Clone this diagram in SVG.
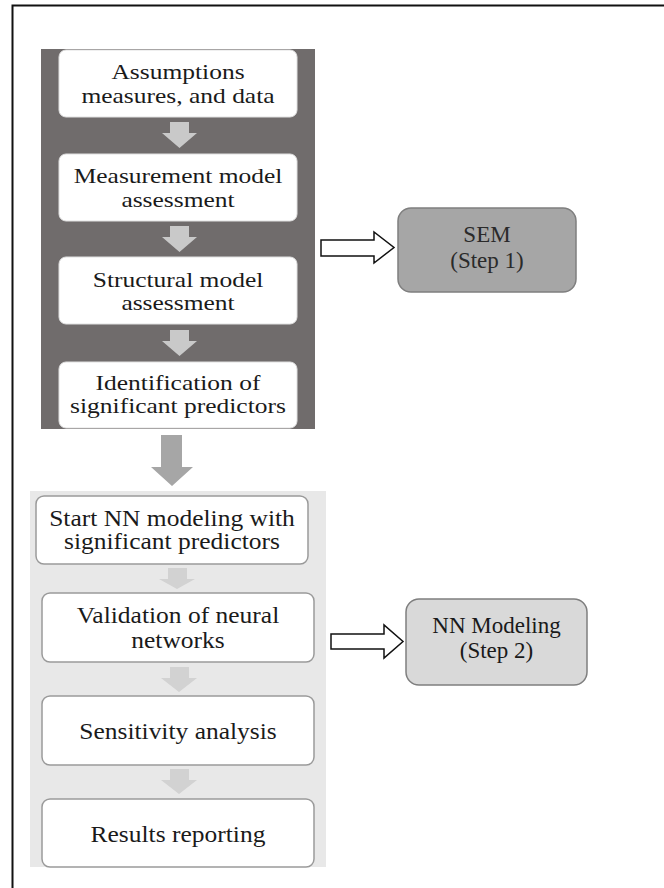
<svg xmlns="http://www.w3.org/2000/svg" width="664" height="888" viewBox="0 0 664 888">
<style>
text{font-family:'Liberation Serif','Times New Roman',Times,serif;fill:#1a1a1a;text-anchor:middle}
.t{font-size:25.5px}
.s{font-size:23px}
.wb{fill:#ffffff;stroke:#e0e0e0;stroke-width:1}
.lb{fill:#ffffff;stroke:#9a9a9a;stroke-width:1.5}
.ar1{fill:#c9c9c9}
.ar2{fill:#d2d2d2}
.hol{fill:#ffffff;stroke:#111;stroke-width:1.5}
</style>
<rect width="664" height="888" fill="#ffffff"/>
<path d="M12.5 888 V5.5 H664" fill="none" stroke="#111" stroke-width="2"/>
<rect id="panel1" x="41" y="49" width="274" height="380" fill="#706c6c"/>
<rect id="panel2" x="30" y="491" width="296" height="376" fill="#e8e8e8"/>
<g id="connectors">
<path class="ar1" d="M170 122 H189 V133 H197 L179.5 148 L162 133 H170 Z"/>
<path class="ar1" d="M170 226 H189 V237 H197 L179.5 252 L162 237 H170 Z"/>
<path class="ar1" d="M170 330 H189 V341 H197 L179.5 356 L162 341 H170 Z"/>
<path fill="#a6a6a6" d="M161 435 H182 V467 H193 L172 486 L151 467 H161 Z"/>
<path class="ar2" d="M168 568 H187 V579 H195 L177 589 L159 579 H168 Z"/>
<path class="ar2" d="M170 667 H189 V678 H197 L179 692 L161 678 H170 Z"/>
<path class="ar2" d="M170 769 H189 V780 H197 L179 794 L161 780 H170 Z"/>
<path class="hol" d="M321 240 H374 V232 L394 247.5 L374 263 V256 H321 Z"/>
<path class="hol" d="M331 634 H384 V625 L403 641.5 L384 658 V649 H331 Z"/>
</g>
<g id="n1"><rect class="wb" x="59" y="50" width="238" height="67" rx="7"/>
<text class="t" font-family="Liberation Serif" transform="translate(178,79) scale(1,0.84)">Assumptions</text>
<text class="t" font-family="Liberation Serif" transform="translate(178,103) scale(1,0.84)">measures, and data</text></g>
<g id="n2"><rect class="wb" x="59" y="154" width="238" height="67" rx="7"/>
<text class="t" transform="translate(178,183) scale(1,0.84)">Measurement model</text>
<text class="t" transform="translate(178,207) scale(1,0.84)">assessment</text></g>
<g id="n3"><rect class="wb" x="59" y="257" width="238" height="67" rx="7"/>
<text class="t" transform="translate(178,287) scale(1,0.84)">Structural model</text>
<text class="t" transform="translate(178,310) scale(1,0.84)">assessment</text></g>
<g id="n4"><rect class="wb" x="59" y="362" width="238" height="66" rx="7"/>
<text class="t" transform="translate(178,390) scale(1,0.84)">Identification of</text>
<text class="t" transform="translate(178,413) scale(1,0.84)">significant predictors</text></g>
<g id="n5"><rect class="lb" x="36" y="496" width="272" height="68" rx="8"/>
<text class="t" transform="translate(172,526) scale(1,0.9)">Start NN modeling with</text>
<text class="t" transform="translate(172,549) scale(1,0.9)">significant predictors</text></g>
<g id="n6"><rect class="lb" x="42" y="593" width="272" height="69" rx="8"/>
<text class="t" transform="translate(178,623) scale(1,0.9)">Validation of neural</text>
<text class="t" transform="translate(178,648) scale(1,0.9)">networks</text></g>
<g id="n7"><rect class="lb" x="42" y="696" width="272" height="69" rx="8"/>
<text class="t" transform="translate(178,739) scale(1,0.9)">Sensitivity analysis</text></g>
<g id="n8"><rect class="lb" x="42" y="799" width="272" height="68" rx="8"/>
<text class="t" transform="translate(178,842) scale(1,0.9)">Results reporting</text></g>
<g id="sem"><rect x="398" y="208" width="178" height="84" rx="13" fill="#a6a6a6" stroke="#7f7f7f" stroke-width="1.5"/>
<text class="s" x="487" y="242" style="fill:#2a2a2a">SEM</text>
<text class="s" x="487" y="268" style="fill:#2a2a2a">(Step 1)</text></g>
<g id="nn"><rect x="406" y="599" width="181" height="86" rx="13" fill="#d9d9d9" stroke="#7f7f7f" stroke-width="1.5"/>
<text class="s" x="496.5" y="633">NN Modeling</text>
<text class="s" x="496.5" y="658">(Step 2)</text></g>
</svg>
